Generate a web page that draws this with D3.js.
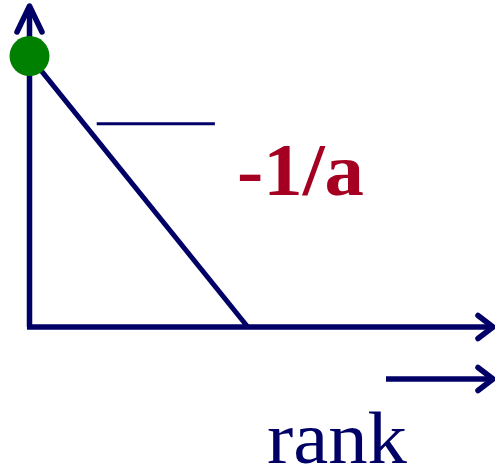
<!DOCTYPE html>
<html><head><meta charset="utf-8">
<script src="https://cdn.jsdelivr.net/npm/d3@7/dist/d3.min.js"></script>
<style>html,body{margin:0;padding:0;background:#fff;}svg{display:block;}</style>
</head><body>
<script>
// Data (in chart units)
const linePoints = [{x: 0, y: 8.44}, {x: 4.71, y: 0}];
const dotPoint = [{x: 0, y: 8.44}];
const slopeMarker = [{x: 1.45, y: 6.33}, {x: 4.0, y: 6.33}];
const slopeLabel = "-1/a";
const xLabel = "rank";

const W = 495, H = 472;
const navy = "#000066", red = "#a50021";
const x = d3.scaleLinear().domain([0, 10]).range([29.5, 493]);
const y = d3.scaleLinear().domain([0, 10]).range([327, 6]);

const svg = d3.select("body").append("svg").attr("width", W).attr("height", H);

function arrowHead(g, tx, ty, dir) {
  let pts;
  if (dir === "up") pts = [[tx - 12.5, ty + 26], [tx, ty], [tx + 12.5, ty + 26]];
  else pts = [[tx - 15, ty - 11.5], [tx, ty], [tx - 15, ty + 11.5]];
  g.append("path").attr("d", d3.line()(pts)).attr("fill", "none")
    .attr("stroke", navy).attr("stroke-width", 5.5)
    .attr("stroke-linecap", "round").attr("stroke-linejoin", "round");
}

// Axes
const axes = svg.append("g");
axes.append("line").attr("x1", x(0)).attr("y1", y(0)).attr("x2", x(0)).attr("y2", y(10) + 1)
  .attr("stroke", navy).attr("stroke-width", 5.5);
axes.append("line").attr("x1", x(0) - 2.5).attr("y1", y(0)).attr("x2", x(10) - 1).attr("y2", y(0))
  .attr("stroke", navy).attr("stroke-width", 5.5);
arrowHead(axes, x(0), y(10), "up");
arrowHead(axes, x(10), y(0), "right");

// Diagonal line
svg.append("path").datum(linePoints)
  .attr("d", d3.line().x(d => x(d.x)).y(d => y(d.y)))
  .attr("fill", "none").attr("stroke", navy).attr("stroke-width", 5);

// Green dot
svg.selectAll("circle.dot").data(dotPoint).join("circle")
  .attr("cx", d => x(d.x)).attr("cy", d => y(d.y)).attr("r", 20).attr("fill", "#008000");

// Slope marker line
svg.append("path").datum(slopeMarker)
  .attr("d", d3.line().x(d => x(d.x)).y(d => y(d.y)))
  .attr("fill", "none").attr("stroke", navy).attr("stroke-width", 3);

// Slope label
svg.append("text").attr("x", 237).attr("y", 195)
  .attr("font-family", "'Liberation Serif','Times New Roman',serif")
  .attr("font-weight", "bold").attr("font-size", 75).attr("fill", red)
  .attr("textLength", 127).attr("lengthAdjust", "spacingAndGlyphs").text(slopeLabel);

// Rank arrow
const rank = svg.append("g");
rank.append("line").attr("x1", 386).attr("y1", 379).attr("x2", 492).attr("y2", 379)
  .attr("stroke", navy).attr("stroke-width", 5.5);
arrowHead(rank, 493, 379, "right");

rank.append("text").attr("x", 267).attr("y", 463)
  .attr("font-family", "'Liberation Serif','Times New Roman',serif")
  .attr("font-size", 73).attr("fill", navy)
  .attr("textLength", 140).attr("lengthAdjust", "spacingAndGlyphs").text(xLabel);
</script>
</body></html>
